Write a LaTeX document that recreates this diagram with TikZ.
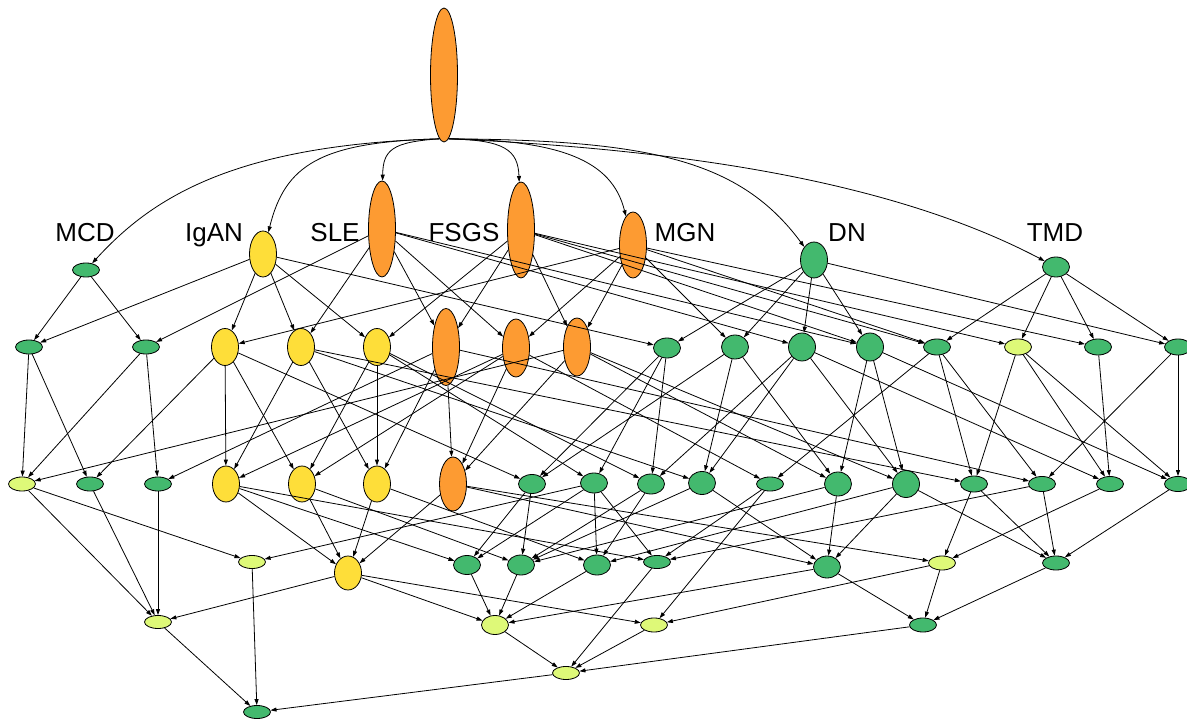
\documentclass[tikz,border=0pt]{standalone}
\usepackage{fontspec}
\setmainfont{Liberation Sans}
\usetikzlibrary{shapes.geometric,arrows.meta}
\definecolor{orn}{RGB}{253,155,50}
\definecolor{yel}{RGB}{254,222,57}
\definecolor{grn}{RGB}{67,185,110}
\definecolor{lgr}{RGB}{222,249,120}
\begin{document}
\begin{tikzpicture}[x=1pt,y=-1pt,
  nd/.style={ellipse,draw=black,line width=0.8pt,inner sep=0pt,minimum width=27pt},
  orng/.style={nd,fill=orn},
  yelw/.style={nd,fill=yel},
  gren/.style={nd,fill=grn},
  lite/.style={nd,fill=lgr},
  lbl/.style={font=\fontsize{26}{30}\selectfont,anchor=base,inner sep=0pt},
  edge/.style={-{Triangle[length=6pt,width=4pt]},line width=0.8pt}]
\useasboundingbox (0,0) rectangle (1187,719);
% ---- nodes
\foreach \n/\x/\y/\h/\s in {
 root/444/75/134/orng, MCD/86/270/14/gren, IgAN/263/254/46/yelw, SLE/382/229/96/orng,
 FSGS/521/230/96/orng, MGN/633/245/66/orng, DN/814/260/36/gren, TMD/1056/267/20/gren,
 r2a/29/347/14/gren, r2b/146/347/14/gren, r2c/225/347/37/yelw, r2d/301/347/37/yelw,
 r2e/377/347/37/yelw, r2f/446/347/77/orng, r2g/516/348/58/orng, r2h/577/347/58/orng,
 r2i/667/348/20/gren, r2j/735/347/24/gren, r2k/802/347/28/gren, r2l/870/347/28/gren,
 r2m/937/347/16/gren, r2n/1018/347/16/lite, r2o/1098/347/16/gren, r2p/1178/347/16/gren,
 r3a/22/484/14/lite, r3b/90/484/14/gren, r3c/158/484/14/gren, r3d/226/484/36/yelw,
 r3e/302/484/36/yelw, r3f/377/484/36/yelw, r3g/453/484/54/orng, r3h/532/484/19/gren,
 r3i/594/483/20/gren, r3j/651/484/20/gren, r3k/702/483/23/gren, r3l/770/484/14/gren,
 r3m/838/484/24/gren, r3n/906/484/27/gren, r3o/974/484/16/gren, r3p/1042/484/15/gren,
 r3q/1110/484/15/gren, r3r/1178/484/15/gren,
 r4a/252/562/13/lite, r4b/348/573/34/yelw, r4c/467/565/19/gren, r4d/521/565/20/gren,
 r4e/597/565/20/gren, r4f/657/562/13/gren, r4g/827/567/22/gren, r4h/942/563/14/lite,
 r4i/1056/563/14/gren,
 r5a/158/622/13/lite, r5b/495/625/19/lite, r5c/654/625/14/lite, r5d/923/625/14/gren,
 r6a/566/673/13/lite, r7a/257/712/13/gren}
 {\node[\s,minimum height=\h pt] (\n) at (\x,\y) {};}
% ---- labels
\node[lbl] (tMCD) at (85,242) {MCD};
\node[lbl] (tIgAN) at (214,242) {IgAN};
\node[lbl] (tSLE) at (335,242) {SLE};
\node[lbl] (tFSGS) at (464,242) {FSGS};
\node[lbl] (tMGN) at (685,242) {MGN};
\node[lbl] (tDN) at (847,242) {DN};
\node[lbl] (tTMD) at (1055,242) {TMD};
% ---- root edges
\draw[edge] (root.266) .. controls (230,145) and (150,200) .. (MCD);
\draw[edge] (root.266) .. controls (320,142) and (285,165) .. (IgAN);
\draw[edge] (root.266) .. controls (392,142) and (383,150) .. (SLE);
\draw[edge] (root.274) .. controls (505,140) and (518,150) .. (FSGS);
\draw[edge] (root.274) .. controls (560,140) and (612,160) .. (MGN);
\draw[edge] (root.274) .. controls (650,140) and (740,160) .. (DN);
\draw[edge] (root.274) .. controls (700,150) and (900,185) .. (TMD);
% ---- straight edges
\foreach \a/\b in {
 IgAN/r2a, MCD/r2a, MCD/r2b, SLE/r2b, IgAN/r2c, MGN/r2c, IgAN/r2d, SLE/r2d,
 IgAN/r2e, FSGS/r2e, SLE/r2f, FSGS/r2f, SLE/r2g, MGN/r2g, FSGS/r2h, MGN/r2h,
 IgAN/r2i, DN/r2i, MGN/r2j, DN/r2j, SLE/r2k, DN/r2k, SLE/r2l, FSGS/r2l, DN/r2l,
 FSGS/r2m, MGN/r2m, TMD/r2m, FSGS/r2n, TMD/r2n, MGN/r2o, TMD/r2o, DN/r2p, TMD/r2p,
 r2a/r3a, r2a/r3b, r2b/r3a, r2b/r3c,
 r2c/r3b, r2c/r3d, r2c/r3e, r2c/r3h,
 r2d/r3d, r2d/r3f, r2d/r3k, r2d/r3o,
 r2e/r3e, r2e/r3f, r2e/r3i, r2e/r3j,
 r2f/r3c, r2f/r3f, r2f/r3g, r2f/r3p,
 r2g/r3d, r2g/r3e, r2g/r3g, r2g/r3l,
 r2h/r3a, r2h/r3g, r2h/r3m, r2h/r3n,
 r2i/r3h, r2i/r3i, r2i/r3j,
 r2j/r3h, r2j/r3k, r2j/r3m,
 r2k/r3j, r2k/r3k, r2k/r3n, r2k/r3q,
 r2l/r3m, r2l/r3n, r2l/r3r,
 r2m/r3l, r2m/r3o, r2m/r3p,
 r2n/r3o, r2n/r3q, r2n/r3r,
 r2o/r3q, r2p/r3p, r2p/r3r,
 r3a/r4a, r3a/r5a, r3b/r5a, r3c/r5a,
 r3d/r4b, r3d/r4c, r3d/r4f, r3e/r4b, r3e/r4d, r3f/r4b, r3f/r4e,
 r3g/r4b, r3g/r4g, r3g/r4h,
 r3h/r4c, r3h/r4d,
 r3i/r4a, r3i/r4c, r3i/r4e, r3i/r4f,
 r3j/r4d, r3j/r4e, r3k/r4d, r3k/r4g,
 r3l/r4f, r3l/r5c,
 r3m/r4g, r3m/r4d, r3n/r4g, r3n/r4i, r3n/r4e,
 r3o/r4h, r3o/r4i, r3p/r4f, r3p/r4i, r3q/r4h, r3r/r4i,
 r4a/r7a, r4b/r5a, r4b/r5b, r4b/r5c,
 r4c/r5b, r4d/r5b, r4e/r5b, r4f/r6a,
 r4g/r5d, r4g/r5b, r4h/r5d, r4h/r5c, r4i/r5d,
 r5a/r7a, r5b/r6a, r5c/r6a, r5d/r6a, r6a/r7a}
 {\draw[edge] (\a) -- (\b);}
\end{tikzpicture}
\end{document}
